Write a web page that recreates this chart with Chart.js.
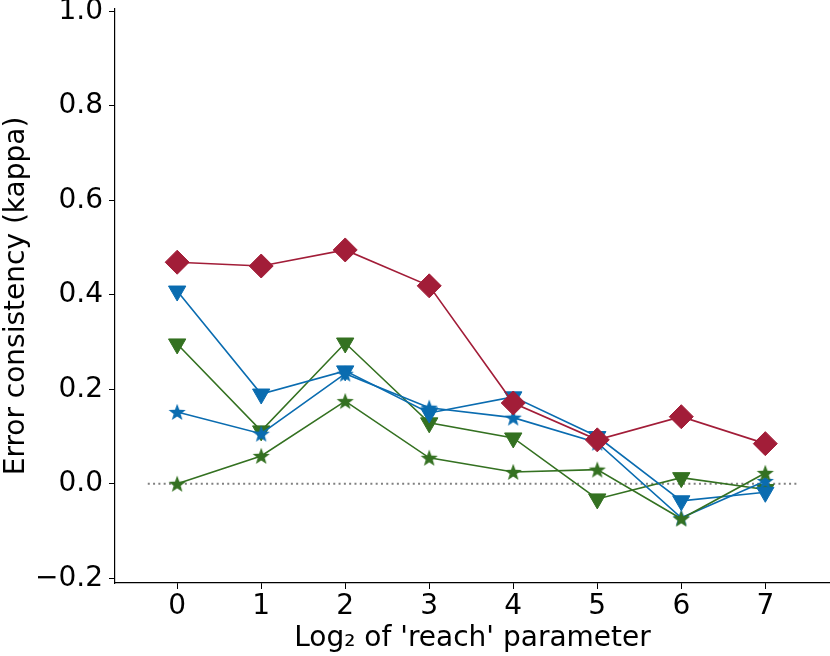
<!DOCTYPE html>
<html>
<head>
<meta charset="utf-8">
<script src="https://cdn.jsdelivr.net/npm/chart.js@4"></script>
<style>
  html, body { margin: 0; padding: 0; background: #fff; }
</style>
</head>
<body>
<canvas id="myChart" width="830" height="656"></canvas>
<script>
// log2 of the 'reach' parameter
var reach = [0, 1, 2, 3, 4, 5, 6, 7];

// kappa values
var redDiamond   = [0.469, 0.461, 0.495, 0.419, 0.171, 0.093, 0.142, 0.085];
var blueTriangle = [0.408, 0.190, 0.239, 0.150, 0.184, 0.100, -0.036, -0.018];
var blueStar     = [0.152, 0.106, 0.233, 0.161, 0.140, 0.087, -0.072, 0.006];
var greenTriangle = [0.296, 0.112, 0.298, 0.129, 0.097, -0.032, 0.013, -0.012];
var greenStar    = [0.000, 0.059, 0.175, 0.055, 0.025, 0.030, -0.074, 0.023];

// dotted zero line
var zeroLineX = [-0.35, 7.38];
var zeroLineY = [0, 0];

var yTicks = [-0.2, 0.0, 0.2, 0.4, 0.6, 0.8, 1.0];

var RED = 'rgb(162, 29, 56)';
var BLUE = 'rgb(10, 108, 176)';
var GREEN = 'rgb(52, 113, 33)';
var FONT = { family: 'DejaVu Sans', size: 28 };

function pts(xs, ys) {
    return xs.map(function (x, i) { return { x: x, y: ys[i] }; });
}

// filled five-point star like matplotlib's '*'
function makeStar(color) {
    var c = document.createElement('canvas');
    c.width = 20; c.height = 20;
    var g = c.getContext('2d');
    g.fillStyle = color;
    g.beginPath();
    for (var i = 0; i < 10; i++) {
        var r = i % 2 === 0 ? 9 : 3.7;
        var a = -Math.PI / 2 + i * Math.PI / 5;
        var px = 10 + r * Math.cos(a), py = 10.8 + r * Math.sin(a);
        if (i === 0) g.moveTo(px, py); else g.lineTo(px, py);
    }
    g.closePath();
    g.fill();
    return c;
}

function series(ys, color, style, radius, rot) {
    return {
        data: pts(reach, ys),
        borderColor: color,
        backgroundColor: color,
        pointBackgroundColor: color,
        pointBorderColor: color,
        borderWidth: 1.6,
        pointBorderWidth: 1,
        pointStyle: style,
        pointRadius: radius,
        pointRotation: rot || 0,
        showLine: true
    };
}

var ctx = document.getElementById('myChart').getContext('2d');
var chart = new Chart(ctx, {
    type: 'scatter',
    data: {
        datasets: [
            series(redDiamond, RED, 'rectRot', 12),
            series(greenStar, GREEN, makeStar(GREEN), 10),
            series(blueStar, BLUE, makeStar(BLUE), 10),
            series(blueTriangle, BLUE, 'triangle', 10, 180),
            series(greenTriangle, GREEN, 'triangle', 10, 180),
            {
                data: pts(zeroLineX, zeroLineY),
                borderColor: 'rgb(128, 128, 128)',
                borderWidth: 2,
                borderDash: [2, 3.3],
                pointRadius: 0,
                showLine: true
            }
        ]
    },
    options: {
        responsive: false,
        animation: false,
        devicePixelRatio: 1,
        layout: { autoPadding: false, padding: { top: 9, right: 0, left: 0, bottom: 0 } },
        plugins: { legend: { display: false }, tooltip: { enabled: false } },
        scales: {
            x: {
                type: 'linear',
                min: -0.74,
                max: 7.77,
                afterBuildTicks: function (s) {
                    s.ticks = reach.map(function (v) { return { value: v }; });
                },
                afterFit: function (s) { s.height = 73; s.paddingLeft = 0; s.paddingRight = 0; },
                grid: { drawOnChartArea: false, drawTicks: true, tickLength: 6, tickColor: '#000', tickWidth: 1 },
                border: { display: true, color: '#000', width: 1.2 },
                ticks: {
                    color: '#000', padding: 1,
                    font: FONT,
                    callback: function (v) { return String(v); }
                },
                title: {
                    display: true, text: 'Log\u2082 of \'reach\' parameter', color: '#000',
                    font: FONT, padding: { top: 0, bottom: 0 }
                }
            },
            y: {
                type: 'linear',
                min: -0.21,
                max: 1.005,
                afterBuildTicks: function (s) {
                    s.ticks = yTicks.map(function (v) { return { value: v }; });
                },
                afterFit: function (s) { s.width = 115; s.paddingTop = 0; s.paddingBottom = 0; },
                grid: { drawOnChartArea: false, drawTicks: true, tickLength: 6, tickColor: '#000', tickWidth: 1 },
                border: { display: true, color: '#000', width: 1.2 },
                ticks: {
                    color: '#000', padding: 6,
                    font: FONT,
                    callback: function (v) {
                        var s = v.toFixed(1);
                        return s.charAt(0) === '-' ? '\u2212' + s.slice(1) : s;
                    }
                },
                title: {
                    display: true, text: 'Error consistency (kappa)', color: '#000',
                    font: FONT, padding: { top: 0, bottom: 0 }
                }
            }
        }
    }
});
</script>
</body>
</html>
